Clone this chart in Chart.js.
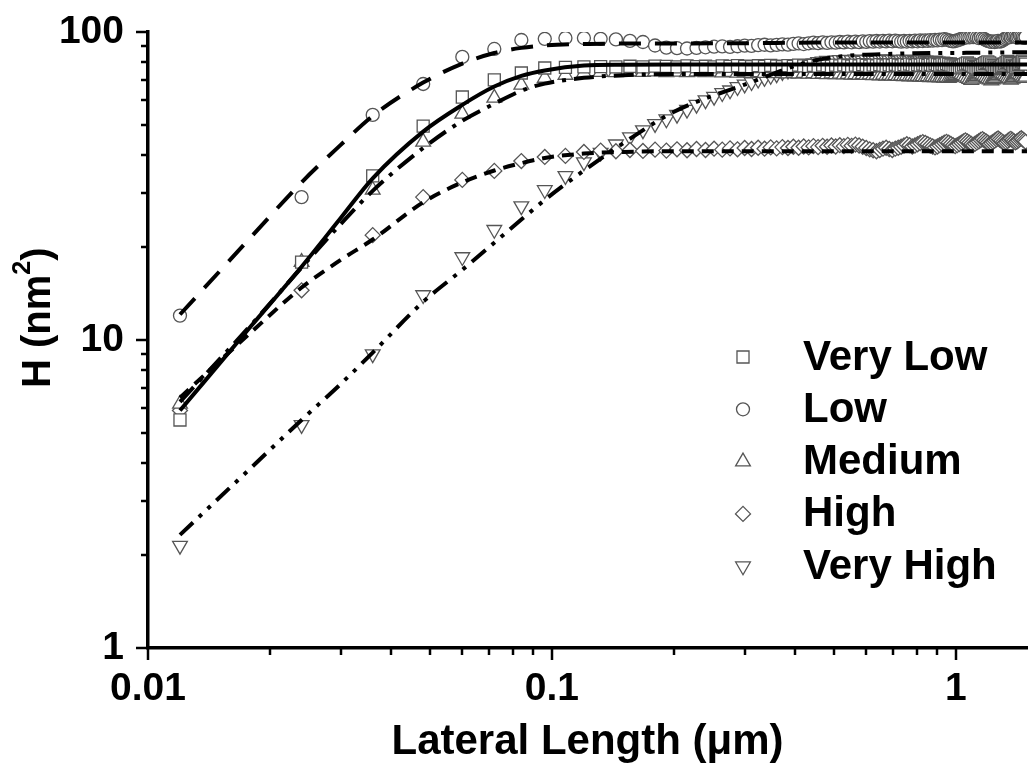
<!DOCTYPE html>
<html>
<head>
<meta charset="utf-8">
<script src="https://cdn.jsdelivr.net/npm/chart.js@4.4.1/dist/chart.umd.min.js"></script>
<style>
  html, body { margin: 0; padding: 0; background: #fff; }
  #chart { display: block; }
</style>
</head>
<body>
<canvas id="chart" width="1029" height="771"></canvas>
<script>
// lateral length (um), one sample every 12 nm
const lengths = [
  0.012, 0.024, 0.036, 0.048, 0.060, 0.072, 0.084, 0.096, 0.108, 0.120,
  0.132, 0.144, 0.156, 0.168, 0.180, 0.192, 0.204, 0.216, 0.228, 0.240,
  0.252, 0.264, 0.276, 0.288, 0.300, 0.312, 0.324, 0.336, 0.348, 0.360,
  0.372, 0.384, 0.396, 0.408, 0.420, 0.432, 0.444, 0.456, 0.468, 0.480,
  0.492, 0.504, 0.516, 0.528, 0.540, 0.552, 0.564, 0.576, 0.588, 0.600,
  0.612, 0.624, 0.636, 0.648, 0.660, 0.672, 0.684, 0.696, 0.708, 0.720,
  0.732, 0.744, 0.756, 0.768, 0.780, 0.792, 0.804, 0.816, 0.828, 0.840,
  0.852, 0.864, 0.876, 0.888, 0.900, 0.912, 0.924, 0.936, 0.948, 0.960,
  0.972, 0.984, 0.996, 1.008, 1.020, 1.032, 1.044, 1.056, 1.068, 1.080,
  1.092, 1.104, 1.116, 1.128, 1.140, 1.152, 1.164, 1.176, 1.188, 1.200,
  1.212, 1.224, 1.236, 1.248, 1.260, 1.272, 1.284, 1.296, 1.308, 1.320,
  1.332, 1.344, 1.356, 1.368, 1.380, 1.392, 1.404, 1.416, 1.428, 1.440,
  1.452, 1.464, 1.476, 1.488
];

// H (nm^2) per sample
const hVeryLow = [
  5.5, 17.9, 34.1, 49.5, 61.5, 69.9, 73.6, 76.4, 76.8, 77.0,
  77.2, 77.0, 77.4, 77.1, 77.5, 77.3, 77.0, 77.6, 77.2, 77.4,
  77.1, 77.6, 77.3, 77.8, 77.4, 77.2, 77.7, 77.3, 77.9, 77.5,
  77.2, 77.8, 77.4, 78.0, 77.6, 77.3, 77.9, 77.5, 78.1, 77.7,
  77.4, 78.0, 77.6, 78.2, 77.8, 77.5, 78.1, 77.7, 78.3, 77.9,
  77.5, 78.1, 77.7, 78.4, 78.0, 77.6, 78.2, 77.8, 78.5, 78.1,
  77.7, 78.3, 77.9, 78.6, 78.2, 77.8, 78.4, 78.0, 78.7, 78.3,
  77.9, 78.5, 78.1, 78.8, 78.4, 78.0, 78.6, 78.2, 78.9, 78.5,
  78.1, 77.6, 77.0, 76.5, 76.9, 77.5, 78.2, 78.8, 79.3, 78.7,
  78.0, 77.3, 76.8, 76.3, 76.8, 77.4, 78.1, 78.9, 79.5, 80.0,
  79.4, 78.6, 77.8, 77.1, 76.5, 76.0, 76.6, 77.3, 78.0, 78.8,
  79.6, 80.3, 79.7, 78.9, 78.1, 77.4, 76.8, 77.5, 78.3, 79.1,
  79.8, 80.4, 79.6, 78.7
];
const hLow = [
  12.0, 29.1, 53.8, 67.8, 83.0, 88.1, 94.2, 95.0, 95.6, 95.6,
  95.0, 94.6, 93.6, 92.8, 90.4, 89.0, 88.6, 88.4, 88.8, 89.2,
  89.6, 89.8, 89.5, 89.9, 90.3, 90.1, 90.6, 90.9, 90.5, 90.8,
  91.2, 91.0, 91.5, 91.8, 91.4, 91.9, 92.3, 92.0, 92.5, 92.2,
  92.6, 92.3, 92.8, 92.5, 93.0, 92.6, 93.1, 92.7, 93.3, 92.9,
  93.4, 93.0, 93.5, 93.1, 93.6, 93.2, 93.7, 93.3, 93.8, 93.4,
  93.0, 93.5, 93.1, 93.6, 93.2, 93.7, 93.3, 93.9, 93.5, 94.0,
  93.6, 94.1, 93.7, 94.3, 93.9, 94.5, 94.1, 94.8, 94.4, 94.0,
  93.6, 93.2, 93.5, 93.9, 94.4, 95.0, 95.5, 96.0, 96.3, 96.1,
  96.5, 96.2, 96.6, 96.0, 95.6, 96.1, 95.4, 94.8, 94.1, 93.6,
  93.2, 92.9, 93.3, 92.8, 93.1, 93.6, 93.0, 93.4, 94.0, 94.8,
  95.5, 96.2, 96.8, 96.3, 96.9, 97.3, 96.7, 96.1, 96.6, 97.2,
  96.8, 96.2, 95.7, 96.4
];
const hMedium = [
  6.2, 17.9, 30.7, 44.0, 54.2, 61.1, 67.3, 70.9, 72.5, 73.6,
  74.1, 74.0, 74.3, 74.1, 74.4, 74.0, 74.2, 73.9, 74.3, 74.0,
  74.2, 73.8, 74.1, 73.7, 74.0, 73.6, 73.9, 73.5, 73.8, 73.4,
  73.7, 73.3, 73.6, 73.2, 73.5, 73.1, 73.4, 73.0, 73.3, 72.9,
  73.2, 72.8, 73.1, 72.7, 73.0, 72.6, 72.9, 72.5, 72.8, 72.4,
  72.7, 72.3, 72.6, 72.2, 72.5, 72.1, 72.4, 72.0, 72.3, 71.9,
  72.2, 71.8, 72.1, 71.7, 72.0, 71.6, 71.9, 71.5, 71.8, 71.4,
  71.7, 71.3, 71.6, 71.2, 71.5, 71.1, 71.4, 71.0, 71.3, 70.9,
  71.2, 71.8, 72.5, 73.1, 73.6, 73.0, 72.3, 71.6, 70.9, 70.3,
  69.8, 70.4, 71.1, 71.9, 72.6, 73.2, 72.7, 72.0, 71.3, 70.6,
  70.0, 69.5, 70.1, 70.8, 71.6, 72.4, 73.1, 73.7, 73.2, 72.5,
  71.8, 71.1, 70.5, 69.9, 70.5, 71.2, 72.0, 72.7, 73.3, 72.8,
  72.1, 71.4, 70.8, 71.5
];
const hHigh = [
  5.9, 14.5, 21.9, 29.1, 33.1, 35.4, 38.1, 39.3, 39.6, 40.8,
  41.2, 41.0, 41.4, 41.1, 41.5, 41.2, 41.6, 41.3, 41.7, 41.4,
  41.8, 41.5, 41.9, 41.6, 42.0, 41.7, 42.1, 41.8, 42.2, 41.9,
  42.3, 42.0, 42.4, 42.1, 42.5, 42.2, 42.6, 42.3, 42.7, 42.4,
  42.8, 42.5, 42.9, 42.6, 43.0, 42.7, 43.1, 42.8, 42.4, 42.0,
  41.6, 41.3, 41.0, 41.4, 41.8, 42.1, 41.7, 41.4, 41.8, 42.1,
  42.4, 42.8, 43.2, 42.9, 42.5, 42.8, 43.2, 43.6, 43.9, 43.6,
  43.2, 42.8, 42.5, 42.2, 42.5, 42.9, 43.3, 43.7, 44.0, 43.7,
  43.3, 42.9, 42.6, 42.9, 43.3, 43.7, 44.1, 44.5, 44.1, 43.7,
  43.3, 43.0, 43.4, 43.8, 44.2, 44.6, 44.9, 44.5, 44.1, 43.7,
  43.3, 43.6, 44.0, 44.4, 44.8, 45.1, 44.7, 44.3, 43.9, 43.6,
  43.9, 44.3, 44.7, 45.0, 44.6, 44.2, 43.8, 44.1, 44.5, 44.9,
  45.2, 44.8, 44.4, 44.0
];
const hVeryHigh = [
  2.15, 5.3, 9.0, 14.0, 18.6, 22.8, 27.2, 30.7, 34.1, 37.8,
  40.6, 43.2, 45.6, 48.0, 50.3, 52.1, 53.9, 56.0, 58.1, 60.1,
  61.7, 63.4, 64.7, 66.3, 67.6, 68.8, 70.1, 71.0, 72.1, 73.0,
  74.2, 75.0, 76.1, 77.0, 77.7, 78.6, 79.2, 80.0, 80.3, 80.7,
  80.4, 80.9, 81.2, 80.8, 81.3, 81.0, 81.5, 81.1, 80.7, 81.2,
  81.6, 81.2, 80.8, 81.3, 81.7, 81.3, 80.9, 81.4, 81.0, 80.6,
  81.1, 81.5, 81.1, 80.7, 81.2, 80.8, 80.4, 80.9, 81.3, 80.9,
  80.5, 80.0, 80.4, 80.8, 80.3, 79.9, 80.3, 79.8, 79.4, 79.8,
  79.3, 78.9, 79.4, 79.0, 78.6, 79.1, 78.7, 78.3, 78.8, 79.2,
  78.8, 78.4, 78.0, 78.5, 78.9, 78.4, 78.0, 77.6, 78.1, 78.6,
  78.2, 77.8, 77.4, 77.9, 78.4, 78.0, 77.6, 77.2, 77.7, 78.2,
  78.7, 78.2, 77.7, 77.3, 77.8, 78.3, 77.9, 77.4, 77.0, 77.5,
  78.0, 77.6, 77.1, 77.6
];

// fitted curves
const fitX = [0.012, 0.018, 0.024, 0.03, 0.036, 0.048, 0.06, 0.072, 0.084, 0.096, 0.12, 0.15, 0.2, 0.3, 0.45, 0.7, 1.0, 1.5];
const fitVeryLow = [5.9, 11.1, 17.3, 24.9, 33.5, 47.5, 58.0, 66.5, 72.0, 75.0, 77.8, 78.3, 78.4, 78.4, 78.4, 78.4, 78.4, 78.4];
const fitLow = [12.1, 21.6, 32.5, 43.0, 53.4, 68.5, 79.0, 85.5, 88.8, 90.5, 91.5, 91.7, 91.8, 92.0, 92.4, 92.5, 92.5, 92.5];
const fitMedium = [6.3, 11.2, 17.2, 23.8, 30.5, 42.0, 51.5, 58.5, 64.5, 68.0, 71.0, 72.4, 73.0, 73.0, 73.0, 73.0, 73.0, 73.0];
const fitHigh = [6.5, 10.6, 14.8, 18.2, 21.2, 28.0, 32.5, 35.5, 37.5, 39.0, 40.3, 40.8, 41.0, 41.0, 41.0, 41.0, 41.0, 41.0];
const fitVeryHigh = [2.33, 3.85, 5.5, 7.2, 9.1, 13.3, 16.9, 20.7, 24.6, 28.5, 35.5, 43.5, 55.0, 67.5, 81.0, 85.0, 85.5, 86.0];

// axis ticks
const xTickValues = [0.01, 0.02, 0.03, 0.04, 0.05, 0.06, 0.07, 0.08, 0.09,
                     0.1, 0.2, 0.3, 0.4, 0.5, 0.6, 0.7, 0.8, 0.9, 1];
const xLabelValues = [0.01, 0.1, 1];
const yTickValues = [1, 2, 3, 4, 5, 6, 7, 8, 9, 10, 20, 30, 40, 50, 60, 70, 80, 90, 100];
const yLabelValues = [1, 10, 100];

const FONT = '"Liberation Sans", Arial, Helvetica, sans-serif';

function toPoints(xs, ys) {
  return ys.map((y, i) => ({ x: xs[i], y: y }));
}

function markerSet(label, values, style, radius, rotation) {
  return {
    label: label,
    data: toPoints(lengths, values),
    showLine: false,
    pointStyle: style,
    pointRadius: radius,
    pointRotation: rotation,
    pointBackgroundColor: "#fff",
    pointBorderColor: "#555",
    pointBorderWidth: 1.3,
    order: 1,
    isMarker: true
  };
}

function fitSet(values, dash) {
  return {
    data: toPoints(fitX, values),
    showLine: true,
    pointRadius: 0,
    borderColor: "#000",
    borderWidth: 4,
    borderDash: dash,
    cubicInterpolationMode: "monotone",
    fill: false,
    order: 0
  };
}

// outward ticks, axis titles and the in-plot legend
const decorPlugin = {
  id: "decor",
  afterDraw(chart) {
    const ctx = chart.ctx;
    const xs = chart.scales.x;
    const ys = chart.scales.y;
    const area = chart.chartArea;
    ctx.save();
    ctx.strokeStyle = "#000";
    ctx.lineWidth = 2.5;
    xTickValues.forEach(v => {
      const px = Math.round(xs.getPixelForValue(v));
      const len = xLabelValues.includes(v) ? 12 : 7;
      ctx.beginPath();
      ctx.moveTo(px, area.bottom);
      ctx.lineTo(px, area.bottom + len);
      ctx.stroke();
    });
    yTickValues.forEach(v => {
      const py = Math.round(ys.getPixelForValue(v));
      const len = yLabelValues.includes(v) ? 12 : 7;
      ctx.beginPath();
      ctx.moveTo(area.left, py);
      ctx.lineTo(area.left - len, py);
      ctx.stroke();
    });

    ctx.fillStyle = "#000";
    ctx.font = "bold 42px " + FONT;
    ctx.textAlign = "center";
    ctx.textBaseline = "alphabetic";
    ctx.fillText("Lateral Length (\u03bcm)", (area.left + area.right) / 2, 754);

    ctx.save();
    ctx.translate(50, 388);
    ctx.rotate(-Math.PI / 2);
    ctx.textAlign = "left";
    ctx.font = "bold 40px " + FONT;
    const head = "H (nm";
    ctx.fillText(head, 0, 0);
    let off = ctx.measureText(head).width;
    ctx.font = "bold 25px " + FONT;
    ctx.fillText("2", off, -20);
    off += ctx.measureText("2").width;
    ctx.font = "bold 40px " + FONT;
    ctx.fillText(")", off, 0);
    ctx.restore();

    // legend
    let row = 0;
    chart.data.datasets.forEach(ds => {
      if (!ds.isMarker) return;
      const y = 357 + row * 52.3;
      ctx.fillStyle = "#fff";
      ctx.strokeStyle = "#555";
      ctx.lineWidth = 1.3;
      Chart.helpers.drawPoint(ctx, {
        pointStyle: ds.pointStyle,
        rotation: ds.pointRotation,
        radius: ds.pointRadius,
        borderWidth: 1.3
      }, 743, y);
      ctx.fillStyle = "#000";
      ctx.font = "bold 42px " + FONT;
      ctx.textAlign = "left";
      ctx.textBaseline = "middle";
      ctx.fillText(ds.label, 803, y + 1);
      row++;
    });
    ctx.restore();
  }
};

new Chart(document.getElementById("chart"), {
  type: "scatter",
  data: {
    datasets: [
      markerSet("Very Low", hVeryLow, "rect", 8.5, 0),
      markerSet("Low", hLow, "circle", 6.5, 0),
      markerSet("Medium", hMedium, "triangle", 8.5, 0),
      markerSet("High", hHigh, "rectRot", 7.5, 0),
      markerSet("Very High", hVeryHigh, "triangle", 8.5, 180),
      fitSet(fitVeryLow, []),
      fitSet(fitLow, [22, 14]),
      fitSet(fitMedium, [20, 8, 4, 8]),
      fitSet(fitHigh, [12, 8]),
      fitSet(fitVeryHigh, [18, 8, 4, 8, 4, 8])
    ]
  },
  options: {
    responsive: false,
    animation: false,
    events: [],
    layout: { autoPadding: false, padding: { top: 32, right: 2, left: 0, bottom: 0 } },
    plugins: {
      legend: { display: false },
      tooltip: { enabled: false }
    },
    scales: {
      x: {
        type: "logarithmic",
        position: "bottom",
        min: 0.01,
        max: 1.5,
        afterBuildTicks: s => { s.ticks = xTickValues.map(v => ({ value: v })); },
        afterFit: s => { s.height = 123; s.paddingLeft = 0; s.paddingRight = 0; },
        border: { display: true, color: "#000", width: 3.5 },
        grid: { display: true, drawOnChartArea: false, drawTicks: false },
        ticks: {
          autoSkip: false,
          maxRotation: 0,
          padding: 18,
          color: "#000",
          font: { family: FONT, size: 39, weight: "bold" },
          callback: v => xLabelValues.includes(v) ? String(v) : ""
        }
      },
      y: {
        type: "logarithmic",
        position: "left",
        min: 1,
        max: 100,
        afterBuildTicks: s => { s.ticks = yTickValues.map(v => ({ value: v })); },
        afterFit: s => { s.width = 148; s.paddingTop = 0; s.paddingBottom = 0; },
        border: { display: true, color: "#000", width: 3.5 },
        grid: { display: true, drawOnChartArea: false, drawTicks: false },
        ticks: {
          autoSkip: false,
          padding: 24,
          color: "#000",
          font: { family: FONT, size: 39, weight: "bold" },
          callback: v => yLabelValues.includes(v) ? String(v) : ""
        }
      }
    }
  },
  plugins: [decorPlugin]
});
</script>
</body>
</html>
